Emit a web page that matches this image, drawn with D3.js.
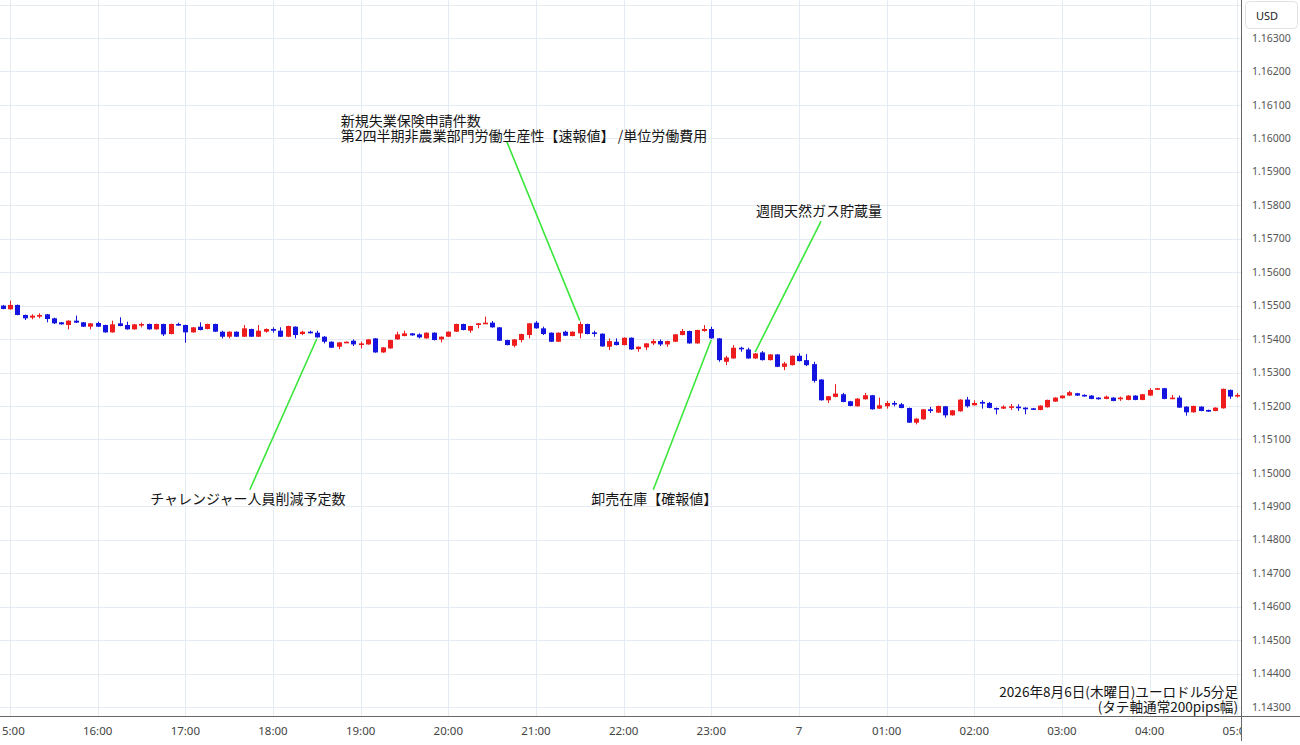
<!DOCTYPE html>
<html><head><meta charset="utf-8">
<script src="https://cdn.jsdelivr.net/npm/d3@7/dist/d3.min.js"></script>
<style>
html,body{margin:0;padding:0;background:#fff;}
svg{display:block;}
</style></head>
<body>
<svg id="chart" width="1300" height="745"></svg>
<script>
// ---------- DATA ----------
const firstCandle = new Date(2026, 7, 6, 14, 55); // 5-minute candles
const stepMinutes = 5;

const open = [1.15500,1.15489,1.15502,1.15472,1.15464,1.15467,1.15474,1.15462,1.15450,1.15442,1.15455,1.15450,1.15437,1.15448,1.15442,1.15420,1.15447,1.15442,1.15429,1.15441,1.15445,1.15429,1.15445,1.15415,1.15445,1.15442,1.15420,1.15437,1.15430,1.15445,1.15422,1.15407,1.15422,1.15407,1.15430,1.15407,1.15422,1.15430,1.15425,1.15407,1.15437,1.15415,1.15422,1.15419,1.15407,1.15392,1.15377,1.15389,1.15395,1.15384,1.15384,1.15402,1.15360,1.15372,1.15399,1.15409,1.15417,1.15414,1.15402,1.15419,1.15399,1.15407,1.15422,1.15445,1.15425,1.15442,1.15447,1.15449,1.15435,1.15397,1.15380,1.15397,1.15412,1.15449,1.15432,1.15419,1.15392,1.15422,1.15409,1.15417,1.15445,1.15420,1.15416,1.15377,1.15392,1.15382,1.15404,1.15370,1.15375,1.15387,1.15394,1.15384,1.15392,1.15412,1.15424,1.15387,1.15424,1.15430,1.15402,1.15332,1.15342,1.15374,1.15369,1.15342,1.15360,1.15337,1.15354,1.15317,1.15322,1.15350,1.15337,1.15325,1.15279,1.15217,1.15227,1.15235,1.15214,1.15199,1.15220,1.15232,1.15192,1.15199,1.15209,1.15205,1.15194,1.15150,1.15160,1.15190,1.15180,1.15199,1.15172,1.15184,1.15219,1.15202,1.15212,1.15209,1.15194,1.15192,1.15195,1.15198,1.15195,1.15193,1.15188,1.15196,1.15213,1.15223,1.15231,1.15238,1.15233,1.15231,1.15225,1.15221,1.15225,1.15220,1.15218,1.15231,1.15218,1.15231,1.15250,1.15253,1.15221,1.15225,1.15198,1.15181,1.15198,1.15188,1.15185,1.15193,1.15248,1.15229];
const high = [1.15502,1.15515,1.15503,1.15473,1.15474,1.15477,1.15475,1.15464,1.15451,1.15456,1.15470,1.15451,1.15448,1.15452,1.15443,1.15455,1.15465,1.15452,1.15445,1.15449,1.15446,1.15446,1.15446,1.15446,1.15449,1.15443,1.15436,1.15450,1.15446,1.15446,1.15425,1.15423,1.15423,1.15442,1.15431,1.15442,1.15432,1.15435,1.15435,1.15440,1.15438,1.15425,1.15425,1.15425,1.15409,1.15393,1.15391,1.15393,1.15399,1.15392,1.15400,1.15403,1.15376,1.15398,1.15422,1.15425,1.15418,1.15417,1.15420,1.15420,1.15408,1.15423,1.15446,1.15446,1.15440,1.15448,1.15467,1.15454,1.15436,1.15398,1.15400,1.15416,1.15448,1.15454,1.15437,1.15420,1.15420,1.15425,1.15423,1.15452,1.15446,1.15425,1.15417,1.15402,1.15402,1.15405,1.15405,1.15378,1.15388,1.15400,1.15399,1.15395,1.15415,1.15430,1.15425,1.15428,1.15442,1.15437,1.15403,1.15350,1.15382,1.15377,1.15374,1.15358,1.15364,1.15355,1.15355,1.15332,1.15351,1.15357,1.15355,1.15332,1.15280,1.15230,1.15265,1.15239,1.15215,1.15223,1.15239,1.15233,1.15225,1.15215,1.15215,1.15209,1.15195,1.15163,1.15191,1.15197,1.15201,1.15200,1.15188,1.15220,1.15227,1.15217,1.15217,1.15212,1.15195,1.15202,1.15206,1.15205,1.15196,1.15194,1.15202,1.15219,1.15226,1.15232,1.15245,1.15239,1.15235,1.15232,1.15226,1.15231,1.15226,1.15228,1.15232,1.15232,1.15236,1.15253,1.15254,1.15254,1.15233,1.15231,1.15199,1.15201,1.15199,1.15189,1.15196,1.15252,1.15249,1.15238];
const low = [1.15489,1.15488,1.15471,1.15457,1.15459,1.15462,1.15450,1.15445,1.15443,1.15429,1.15448,1.15436,1.15429,1.15436,1.15419,1.15419,1.15438,1.15428,1.15428,1.15435,1.15428,1.15428,1.15409,1.15414,1.15440,1.15389,1.15419,1.15426,1.15429,1.15421,1.15402,1.15402,1.15406,1.15406,1.15406,1.15406,1.15419,1.15419,1.15406,1.15406,1.15402,1.15412,1.15417,1.15404,1.15387,1.15373,1.15370,1.15388,1.15379,1.15372,1.15383,1.15359,1.15359,1.15371,1.15398,1.15408,1.15410,1.15402,1.15401,1.15396,1.15390,1.15406,1.15421,1.15426,1.15419,1.15432,1.15446,1.15434,1.15394,1.15381,1.15375,1.15390,1.15402,1.15431,1.15412,1.15391,1.15391,1.15409,1.15408,1.15402,1.15414,1.15407,1.15377,1.15367,1.15381,1.15381,1.15368,1.15362,1.15367,1.15382,1.15379,1.15377,1.15391,1.15411,1.15386,1.15386,1.15422,1.15401,1.15332,1.15322,1.15341,1.15362,1.15341,1.15341,1.15336,1.15336,1.15316,1.15307,1.15321,1.15333,1.15319,1.15270,1.15216,1.15209,1.15226,1.15211,1.15199,1.15198,1.15219,1.15189,1.15191,1.15192,1.15199,1.15193,1.15149,1.15145,1.15159,1.15179,1.15179,1.15165,1.15171,1.15183,1.15195,1.15201,1.15192,1.15193,1.15175,1.15191,1.15188,1.15185,1.15175,1.15188,1.15187,1.15195,1.15212,1.15222,1.15230,1.15230,1.15228,1.15220,1.15219,1.15220,1.15214,1.15215,1.15217,1.15217,1.15217,1.15230,1.15249,1.15220,1.15220,1.15194,1.15171,1.15180,1.15184,1.15182,1.15184,1.15192,1.15221,1.15225];
const close = [1.15490,1.15502,1.15472,1.15462,1.15470,1.15472,1.15460,1.15447,1.15444,1.15455,1.15449,1.15437,1.15447,1.15437,1.15420,1.15444,1.15439,1.15429,1.15444,1.15445,1.15429,1.15445,1.15414,1.15445,1.15441,1.15420,1.15435,1.15427,1.15445,1.15422,1.15407,1.15422,1.15407,1.15432,1.15407,1.15425,1.15430,1.15425,1.15407,1.15439,1.15412,1.15422,1.15419,1.15405,1.15392,1.15374,1.15390,1.15392,1.15384,1.15387,1.15399,1.15360,1.15375,1.15397,1.15414,1.15417,1.15411,1.15405,1.15419,1.15397,1.15407,1.15422,1.15445,1.15427,1.15439,1.15447,1.15449,1.15435,1.15395,1.15382,1.15399,1.15415,1.15447,1.15432,1.15415,1.15392,1.15419,1.15410,1.15422,1.15445,1.15415,1.15417,1.15378,1.15394,1.15382,1.15404,1.15369,1.15377,1.15387,1.15394,1.15384,1.15394,1.15414,1.15424,1.15387,1.15427,1.15430,1.15402,1.15337,1.15345,1.15374,1.15370,1.15342,1.15357,1.15337,1.15354,1.15317,1.15327,1.15350,1.15334,1.15322,1.15275,1.15217,1.15229,1.15237,1.15212,1.15200,1.15222,1.15232,1.15190,1.15202,1.15209,1.15204,1.15194,1.15150,1.15162,1.15190,1.15185,1.15200,1.15172,1.15187,1.15219,1.15199,1.15209,1.15207,1.15194,1.15190,1.15198,1.15199,1.15195,1.15190,1.15189,1.15201,1.15218,1.15225,1.15231,1.15241,1.15231,1.15229,1.15221,1.15220,1.15228,1.15215,1.15225,1.15231,1.15218,1.15235,1.15248,1.15253,1.15221,1.15225,1.15195,1.15181,1.15200,1.15185,1.15183,1.15195,1.15251,1.15228,1.15233];

// y-axis tick values (prices)
const yTicks = [1.143,1.144,1.145,1.146,1.147,1.148,1.149,1.150,1.151,1.152,1.153,1.154,1.155,1.156,1.157,1.158,1.159,1.160,1.161,1.162,1.163];
// x-axis tick labels (hourly)
const xTickLabels = ["15:00","16:00","17:00","18:00","19:00","20:00","21:00","22:00","23:00","7","01:00","02:00","03:00","04:00","05:00"];

// economic event annotations
const eventLabels = [
  ["チャレンジャー人員削減予定数"],
  ["新規失業保険申請件数","第2四半期非農業部門労働生産性【速報値】 /単位労働費用"],
  ["卸売在庫【確報値】"],
  ["週間天然ガス貯蔵量"]
];
const eventTimes = ["18:30","21:30","23:00","23:30"]; // candle the pointer ends on (Aug 6)
const captionLines = ["2026年8月6日(木曜日)ユーロドル5分足","(タテ軸通常200pips幅)"];

// ---------- LAYOUT ----------
const W = 1300, H = 745;
const plotRight = 1241, plotBottom = 716;
const svg = d3.select("#chart");
svg.append("rect").attr("width", W).attr("height", H).attr("fill", "#fff");

const candles = open.map((o, k) => ({
  t: d3.timeMinute.offset(firstCandle, k * stepMinutes),
  o, h: high[k], l: low[k], c: close[k]
}));

const t15 = new Date(2026, 7, 6, 15, 0);
const t05 = new Date(2026, 7, 7, 5, 0);
const x = d3.scaleTime()
  .domain([d3.timeSecond.offset(t15, -411), d3.timeSecond.offset(t05, 154)])
  .range([0, plotRight]);
const y = d3.scaleLinear().domain([1.142731, 1.164136]).range([plotBottom, 0]);

const hourTicks = d3.timeHour.range(t15, d3.timeMinute.offset(t05, 1));

const defs = svg.append("defs");
defs.append("clipPath").attr("id", "plotclip").append("rect")
  .attr("x", 0).attr("y", 0).attr("width", plotRight).attr("height", plotBottom);
defs.append("clipPath").attr("id", "xclip").append("rect")
  .attr("x", 0).attr("y", plotBottom).attr("width", plotRight).attr("height", H - plotBottom);

// grid
const grid = svg.append("g").attr("clip-path", "url(#plotclip)");
grid.selectAll("line.v").data(hourTicks).join("line")
  .attr("x1", d => Math.round(x(d)) + 0.5).attr("x2", d => Math.round(x(d)) + 0.5)
  .attr("y1", 0).attr("y2", plotBottom)
  .attr("stroke", "#e4ebf2").attr("stroke-width", 1);
grid.selectAll("line.h").data(yTicks.concat([1.164])).join("line")
  .attr("x1", 0).attr("x2", plotRight)
  .attr("y1", d => Math.round(y(d)) + 0.5).attr("y2", d => Math.round(y(d)) + 0.5)
  .attr("stroke", "#e4ebf2").attr("stroke-width", 1);

// candles
const red = "#ee1c1c", blue = "#1414e0";
const bodyW = 5;
const cg = svg.append("g").attr("clip-path", "url(#plotclip)");
const cs = cg.selectAll("g.c").data(candles).join("g");
cs.append("line")
  .attr("x1", d => Math.round(x(d.t)) + 0.5).attr("x2", d => Math.round(x(d.t)) + 0.5)
  .attr("y1", d => y(d.h)).attr("y2", d => y(d.l))
  .attr("stroke", d => d.c >= d.o ? red : blue).attr("stroke-width", 1);
cs.append("rect")
  .attr("x", d => Math.round(x(d.t)) + 0.5 - bodyW / 2)
  .attr("width", bodyW)
  .attr("y", d => y(Math.max(d.o, d.c)))
  .attr("height", d => Math.max(1.6, Math.abs(y(d.o) - y(d.c))))
  .attr("fill", d => d.c >= d.o ? red : blue);

// annotations
const fontJP = "'Noto Sans CJK JP','Noto Sans',sans-serif";
const green = "#3ae63a";
// pixel offsets of the label from the candle, and which end of the candle the pointer touches
const evLayout = [
  {end: "low",  dx: -67, dy: 151, anchor: "middle", tdx: -2, tdy: 14},
  {end: "high", dx: -73, dy: -179, anchor: "start", tdx: -166, tdy: -16},
  {end: "low",  dx: -58, dy: 150, anchor: "middle", tdx: 1, tdy: 14},
  {end: "high", dx: 66,  dy: -131, anchor: "middle", tdx: -2, tdy: -5}
];
const ag = svg.append("g");
eventLabels.forEach((lines, k) => {
  const [hh, mm] = eventTimes[k].split(":").map(Number);
  const t = new Date(2026, 7, 6, hh, mm);
  const cd = candles.find(c => +c.t === +t);
  const L = evLayout[k];
  const ex = x(cd.t), ey = L.end === "high" ? y(cd.h) - 1 : y(cd.l) + 1;
  const sx = ex + L.dx, sy = ey + L.dy;
  ag.append("line").attr("x1", sx).attr("y1", sy).attr("x2", ex).attr("y2", ey)
    .attr("stroke", green).attr("stroke-width", 1.6);
  const tx = ag.append("text").attr("x", sx + L.tdx).attr("y", sy + L.tdy)
    .attr("text-anchor", L.anchor).attr("font-family", fontJP)
    .attr("font-size", 14).attr("fill", "#151515");
  lines.forEach((s, j) => tx.append("tspan").attr("x", sx + L.tdx).attr("dy", j === 0 ? 0 : 15).text(s));
});

// caption
const cap = svg.append("text").attr("text-anchor", "end").attr("font-family", fontJP)
  .attr("font-size", 13.6).attr("fill", "#151515");
captionLines.forEach((s, j) => cap.append("tspan").attr("x", 1238).attr("y", 697 + j * 15).text(s));

// axes lines
svg.append("line").attr("x1", 0).attr("x2", W).attr("y1", plotBottom + 0.5).attr("y2", plotBottom + 0.5)
  .attr("stroke", "#666").attr("stroke-width", 1);
svg.append("line").attr("x1", plotRight + 0.5).attr("x2", plotRight + 0.5).attr("y1", 0).attr("y2", H - 4)
  .attr("stroke", "#666").attr("stroke-width", 1);

// y labels
const fontNum = "'Noto Sans','Open Sans',sans-serif";
svg.append("g").selectAll("text").data(yTicks).join("text")
  .attr("x", 1252).attr("y", d => y(d)).attr("dy", "0.35em")
  .attr("font-family", fontNum).attr("font-size", 10.5).attr("fill", "#555")
  .text(d => d.toFixed(5));

// USD box
svg.append("rect").attr("x", 1245.5).attr("y", 1.5).attr("width", 52).attr("height", 27).attr("rx", 4)
  .attr("fill", "#fff").attr("stroke", "#e2e2e2");
svg.append("text").attr("x", 1256).attr("y", 20).attr("font-family", fontNum)
  .attr("font-size", 11).attr("fill", "#222").text("USD");

// x labels
svg.append("g").attr("clip-path", "url(#xclip)").selectAll("text").data(hourTicks).join("text")
  .attr("x", d => x(d)).attr("y", 735).attr("text-anchor", "middle")
  .attr("font-family", fontNum).attr("font-size", 11.5).attr("fill", "#444")
  .text((d, k) => xTickLabels[k]);
</script>
</body></html>
